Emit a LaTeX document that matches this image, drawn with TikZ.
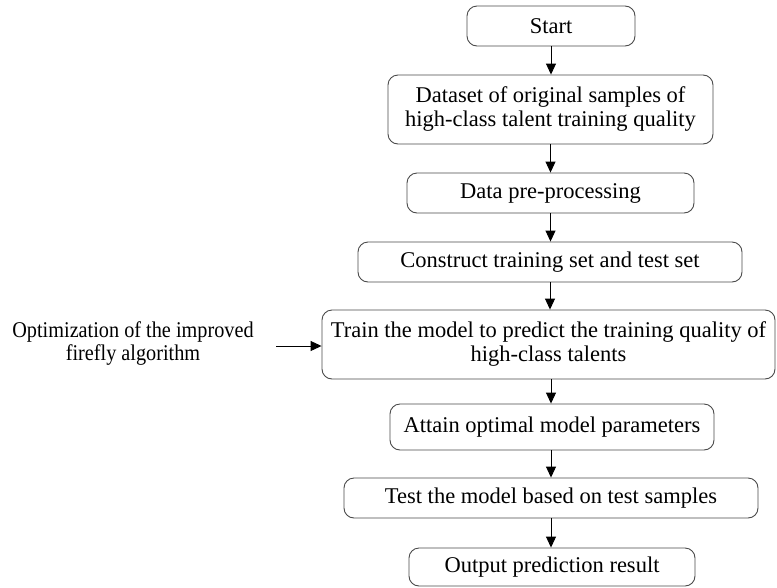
\documentclass[tikz,border=0pt]{standalone}
\usepackage{fontspec}
\setmainfont{Liberation Serif}
\newfontfamily\condfont[FakeStretch=0.9]{Liberation Serif}
\usetikzlibrary{arrows.meta}
\definecolor{boxline}{HTML}{4A4A4A}
\begin{document}
\begin{tikzpicture}[x=1pt,y=1pt,
  stepbox/.style={draw=boxline,line width=0.9pt,rounded corners=10pt,align=center,inner sep=0pt,
    font=\fontsize{22.5}{24}\selectfont},
  flow/.style={-{Triangle[length=11pt,width=10pt]},line width=0.9pt,black}]
\useasboundingbox (0,0) rectangle (777,-587);
\node[stepbox,minimum width=168pt,minimum height=40pt] (start) at (551,-26) {Start};
\node[stepbox,minimum width=325pt,minimum height=69pt] (data) at (550.5,-109.5) {Dataset of original samples of\\high-class talent training quality};
\node[stepbox,minimum width=287pt,minimum height=40pt] (pre) at (550.5,-193) {Data pre-processing};
\node[stepbox,minimum width=384pt,minimum height=40pt] (cons) at (550,-262) {Construct training set and test set};
\node[stepbox,minimum width=453pt,minimum height=69pt] (train) at (548.5,-344.5) {Train the model to predict the training quality of\\high-class talents};
\node[stepbox,minimum width=324pt,minimum height=46pt] (attain) at (552,-427) {Attain optimal model parameters};
\node[stepbox,minimum width=414pt,minimum height=40pt] (test) at (551,-498) {Test the model based on test samples};
\node[stepbox,minimum width=286pt,minimum height=38pt] (out) at (552,-567) {Output prediction result};
\node[align=center,inner sep=0pt,font=\condfont\fontsize{22.5}{23}\selectfont] (opt) at (133,-344) {Optimization of the improved\\firefly algorithm};
\coordinate (src) at (276,-346);
\draw[flow] (start.south) -- (start.south |- data.north);
\draw[flow] (data.south) -- (data.south |- pre.north);
\draw[flow] (pre.south) -- (pre.south |- cons.north);
\draw[flow] (cons.south) -- (cons.south |- train.north);
\draw[flow] ([xshift=2.5pt]train.south) -- ([xshift=2.5pt]train.south |- attain.north);
\draw[flow] ([xshift=-1pt]attain.south) -- ([xshift=-1pt]attain.south |- test.north);
\draw[flow] (test.south) -- (test.south |- out.north);
\draw[flow] (src) -- (src -| train.west);
\end{tikzpicture}
\end{document}
